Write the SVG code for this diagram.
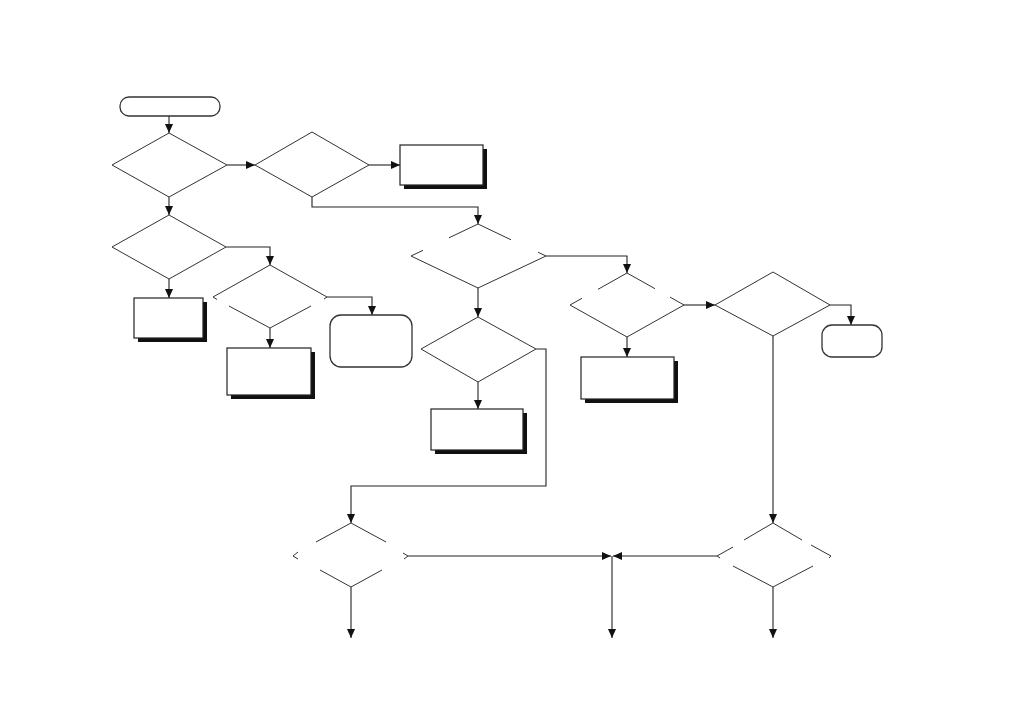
<svg xmlns="http://www.w3.org/2000/svg" width="1020" height="726" viewBox="0 0 1020 726">
<style>
.ln{fill:none;stroke:#222;stroke-width:1.1}
.dm{fill:none;stroke:#333;stroke-width:1}
.box{fill:#fff;stroke:#222;stroke-width:1.2}
.sh{fill:#111}
.rnd{fill:#fff;stroke:#333;stroke-width:1.3}
</style>
<defs>
<marker id="ah" markerUnits="userSpaceOnUse" markerWidth="9" markerHeight="8" refX="9" refY="4" orient="auto">
<path d="M0,0 L9,4 L0,8 z" fill="#111"/>
</marker>
</defs>
<rect width="1020" height="726" fill="#fff"/>
<g id="connectors">
<path class="ln" marker-end="url(#ah)" d="M169,116 V133"/>
<path class="ln" marker-end="url(#ah)" d="M227,165 H255"/>
<path class="ln" marker-end="url(#ah)" d="M369,165 H400"/>
<path class="ln" marker-end="url(#ah)" d="M169,197 V215"/>
<path class="ln" marker-end="url(#ah)" d="M312,197 V207 H478 V224"/>
<path class="ln" marker-end="url(#ah)" d="M226,247 H270 V265"/>
<path class="ln" marker-end="url(#ah)" d="M169,279 V298"/>
<path class="ln" marker-end="url(#ah)" d="M270,328 V348"/>
<path class="ln" marker-end="url(#ah)" d="M327,297 H372 V315"/>
<path class="ln" marker-end="url(#ah)" d="M546,256 H627 V273"/>
<path class="ln" marker-end="url(#ah)" d="M478,288 V317"/>
<path class="ln" marker-end="url(#ah)" d="M478,382 V409"/>
<path class="ln" marker-end="url(#ah)" d="M536,349 H546 V486 H351 V523"/>
<path class="ln" marker-end="url(#ah)" d="M684,305 H715"/>
<path class="ln" marker-end="url(#ah)" d="M830,305 H851 V325"/>
<path class="ln" marker-end="url(#ah)" d="M627,337 V357"/>
<path class="ln" marker-end="url(#ah)" d="M773,336 V523"/>
<path class="ln" marker-end="url(#ah)" d="M408,556 H611"/>
<path class="ln" marker-end="url(#ah)" d="M717,556 H613"/>
<path class="ln" marker-end="url(#ah)" d="M612,556 V638"/>
<path class="ln" marker-end="url(#ah)" d="M351,587 V638"/>
<path class="ln" marker-end="url(#ah)" d="M773,587 V638"/>
</g>
<g id="start"><rect class="rnd" x="120" y="97" width="100" height="19" rx="9"/></g>
<g id="d1"><path class="dm" d="M169,133 L227,165 L169,197 L112,165 Z"/></g>
<g id="d2"><path class="dm" d="M312,132 L369,165 L312,197 L255,165 Z"/></g>
<g id="p1"><rect class="sh" x="404" y="149" width="83" height="40"/><rect class="box" x="400" y="145" width="83" height="40"/></g>
<g id="d3"><path class="dm" d="M169,215 L226,247 L169,279 L112,247 Z"/></g>
<g id="d4"><path class="dm" d="M229,306 L270,328 L311,306 M324,299 L327,297 L270,265 L213,297 L217,299.5"/></g>
<g id="p2"><rect class="sh" x="138" y="302" width="69" height="40"/><rect class="box" x="134" y="298" width="69" height="40"/></g>
<g id="p3"><rect class="sh" x="231" y="352" width="84" height="47"/><rect class="box" x="227" y="348" width="84" height="47"/></g>
<g id="t1"><rect class="rnd" x="330" y="315" width="82" height="52" rx="11"/></g>
<g id="d5"><path class="dm" d="M423,250.3 L411,256 L478,288 L546,256 L538,252.2 M511,239.8 L478,224 L449,237.8"/></g>
<g id="d6"><path class="dm" d="M582,298.3 L570,305 L627,337 L684,305 L670,297.1 M655,288.7 L627,273 L598,289.3"/></g>
<g id="d7"><path class="dm" d="M773,272 L830,305 L773,336 L715,305 Z"/></g>
<g id="t2"><rect class="rnd" x="822" y="325" width="60" height="32" rx="10"/></g>
<g id="p4"><rect class="sh" x="585" y="361" width="93" height="42"/><rect class="box" x="581" y="357" width="93" height="42"/></g>
<g id="d8"><path class="dm" d="M478,317 L536,349 L478,382 L421,349 Z"/></g>
<g id="p5"><rect class="sh" x="435" y="413" width="92" height="41"/><rect class="box" x="431" y="409" width="92" height="41"/></g>
<g id="d9"><path class="dm" d="M316,542 L351,523 L386,542 M403,553 L408,556 L404,559 M382,570 L351,587 L320,570 M298,559 L293,556 L298,552"/></g>
<g id="d10"><path class="dm" d="M744,540 L773,523 L802,540 M811,545 L831,556 L829,558 M813,566 L773,587 L733,566 M720,558 L717,556 L733,547"/></g>
</svg>
